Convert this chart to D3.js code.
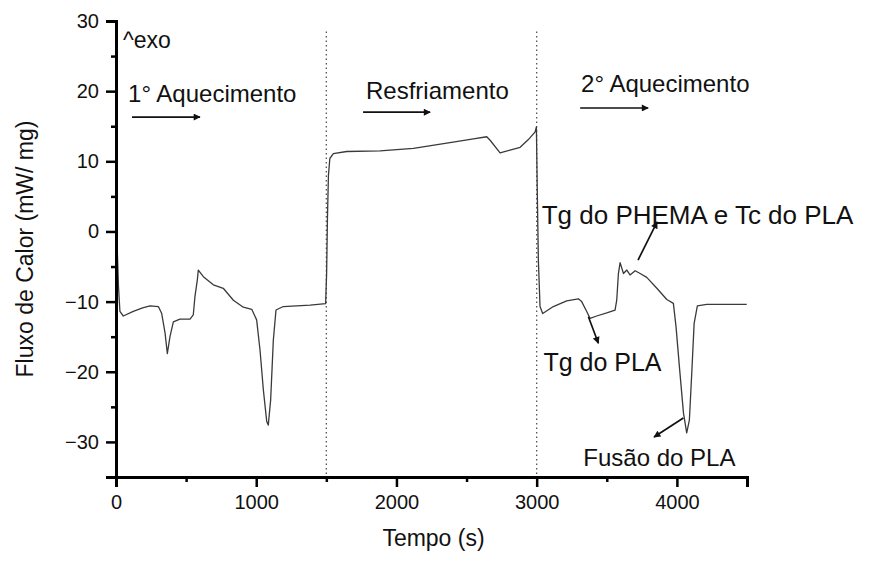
<!DOCTYPE html>
<html>
<head>
<meta charset="utf-8">
<script src="https://cdn.jsdelivr.net/npm/d3@7/dist/d3.min.js"></script>
<style>
  body { margin: 0; background: #fff; }
  svg { display: block; font-family: "Liberation Sans", Arial, sans-serif; }
</style>
</head>
<body>
<svg id="chart" width="874" height="561"></svg>
<script>
// Curva DSC (tempo em s, fluxo em mW/mg)
const tempo = [
  0, 8, 18, 28, 52, 123, 190, 243, 302, 326, 350, 366, 385, 409, 456, 528, 551, 563, 580, 587,
  623, 694, 765, 837, 908, 968, 1003, 1027, 1051, 1075, 1086, 1103, 1122, 1141, 1193, 1384, 1495,
  1502, 1508, 1515, 1525, 1550, 1645, 1883, 2121, 2359, 2549, 2644, 2668, 2739, 2810, 2882, 2941, 2989, 2998,
  3005, 3012, 3024, 3043, 3119, 3214, 3297, 3321, 3357, 3381, 3428, 3500, 3559, 3571, 3583, 3595,
  3619, 3643, 3666, 3702, 3738, 3785, 3857, 3928, 3975, 3994, 4018, 4047, 4070, 4089, 4106, 4123,
  4146, 4213, 4498
];
const fluxo = [
  5, -2, -8, -11.4, -12.05, -11.4, -10.9, -10.6, -10.7, -11.7, -14.5, -17.4, -15, -12.9, -12.5, -12.5, -11.9, -9.3, -6.9, -5.5,
  -6.45, -7.6, -8.1, -9.8, -10.8, -11.1, -12.6, -16.9, -22.6, -27.1, -27.6, -24, -15.5, -11.2, -10.7, -10.5, -10.3,
  -6, 2, 8, 10.4, 11.1, 11.4, 11.5, 11.85, 12.6, 13.2, 13.5, 13.0, 11.2, 11.6, 12.0, 13.1, 14.2, 14.9,
  5, -4, -10.7, -11.7, -10.7, -9.9, -9.6, -10.0, -11.4, -12.4, -12.05, -11.6, -11.2, -9.8, -6.0, -4.45,
  -6.0, -5.5, -6.2, -5.6, -6.0, -6.55, -8.1, -9.7, -10.25, -13.6, -19.3, -25.9, -28.7, -26.9, -20.2, -13.1,
  -10.6, -10.4, -10.4
];

// Eixos
const xTicks = [0, 1000, 2000, 3000, 4000];
const xMinor = [500, 1500, 2500, 3500, 4500];
const yTicks = [-30, -20, -10, 0, 10, 20, 30];
const yMinor = [-25, -15, -5, 5, 15, 25];

// Separacao das etapas
const etapas = [1500, 3000];

// Textos: [texto, tempo, fluxo, tamanho]
const textos = [
  ['^exo', 50, 26.15, 23],
  ['1° Aquecimento', 86, 18.5, 24],
  ['Resfriamento', 1783, 18.84, 24],
  ['2° Aquecimento', 3317, 19.9, 24],
  ['Tg do PHEMA e Tc do PLA', 3036, 1.05, 26],
  ['Tg do PLA', 3048, -19.85, 25],
  ['Fusão do PLA', 3333, -33.4, 24]
];

// Setas: [tempo0, fluxo0, tempo1, fluxo1]
const setas = [
  [114, 16.3, 599, 16.3],
  [1762, 17.0, 2240, 17.0],
  [3310, 17.6, 3795, 17.6],
  [3723, -4.07, 3859, 1.35],
  [3369, -12.15, 3440, -15.94],
  [4046, -26.6, 3837, -29.3]
];

const svg = d3.select('#chart');

const x = d3.scaleLinear().domain([0, 4500]).range([116, 747]);
const y = d3.scaleLinear().domain([-35, 30]).range([477, 21]);

// ponta de seta
svg.append('defs').append('marker')
  .attr('id', 'ponta')
  .attr('viewBox', '0 0 10 10')
  .attr('refX', 9).attr('refY', 5)
  .attr('markerWidth', 12).attr('markerHeight', 7)
  .attr('markerUnits', 'userSpaceOnUse')
  .attr('orient', 'auto')
  .append('path')
  .attr('d', 'M0,0 L10,5 L0,10 z')
  .attr('fill', '#111');

// linhas pontilhadas verticais
svg.selectAll('line.etapa')
  .data(etapas)
  .enter()
  .append('line')
  .attr('class', 'etapa')
  .attr('x1', d => x(d)).attr('x2', d => x(d))
  .attr('y1', y(28.5)).attr('y2', y(-35))
  .attr('stroke', '#555')
  .attr('stroke-width', 1.3)
  .attr('stroke-dasharray', '1.5,3');

// curva
const pontos = tempo.map((t, i) => [t, fluxo[i]]);
svg.append('path')
  .datum(pontos)
  .attr('d', d3.line().x(d => x(d[0])).y(d => y(d[1])))
  .attr('fill', 'none')
  .attr('stroke', '#3a3a3a')
  .attr('stroke-width', 1.3)
  .attr('stroke-linejoin', 'round');

// eixo x
const gx = svg.append('g').attr('transform', 'translate(0,' + y(-35) + ')');
gx.call(d3.axisBottom(x).tickValues(xTicks).tickSize(10).tickPadding(8).tickFormat(d3.format('d')));
gx.append('g').call(d3.axisBottom(x).tickValues(xMinor).tickSize(5).tickFormat(''));

// eixo y
const gy = svg.append('g').attr('transform', 'translate(' + x(0) + ',0)');
gy.call(d3.axisLeft(y).tickValues(yTicks).tickSize(10).tickPadding(7));
gy.append('g').call(d3.axisLeft(y).tickValues(yMinor).tickSize(5).tickFormat(''));

svg.selectAll('.domain').attr('stroke', '#000').attr('stroke-width', 3);
svg.selectAll('.tick line').attr('stroke', '#000').attr('stroke-width', 2.5);
svg.selectAll('.tick text').attr('font-size', 20).attr('fill', '#111')
  .attr('font-family', '"Liberation Sans", Arial, sans-serif');

// titulos dos eixos
svg.append('text')
  .attr('x', (x(0) + x(4500)) / 2 + 2).attr('y', 546)
  .attr('text-anchor', 'middle')
  .attr('font-size', 23)
  .attr('fill', '#111')
  .text('Tempo (s)');

svg.append('text')
  .attr('transform', 'translate(33,' + y(-2.5) + ') rotate(-90)')
  .attr('text-anchor', 'middle')
  .attr('font-size', 23)
  .attr('fill', '#111')
  .text('Fluxo de Calor (mW/ mg)');

// anotacoes
svg.selectAll('text.nota')
  .data(textos)
  .enter()
  .append('text')
  .attr('class', 'nota')
  .attr('x', d => x(d[1]))
  .attr('y', d => y(d[2]))
  .attr('font-size', d => d[3])
  .attr('fill', '#111')
  .text(d => d[0]);

svg.selectAll('line.seta')
  .data(setas)
  .enter()
  .append('line')
  .attr('class', 'seta')
  .attr('x1', d => x(d[0])).attr('y1', d => y(d[1]))
  .attr('x2', d => x(d[2])).attr('y2', d => y(d[3]))
  .attr('stroke', '#111')
  .attr('stroke-width', 1.7)
  .attr('marker-end', 'url(#ponta)');
</script>
</body>
</html>
